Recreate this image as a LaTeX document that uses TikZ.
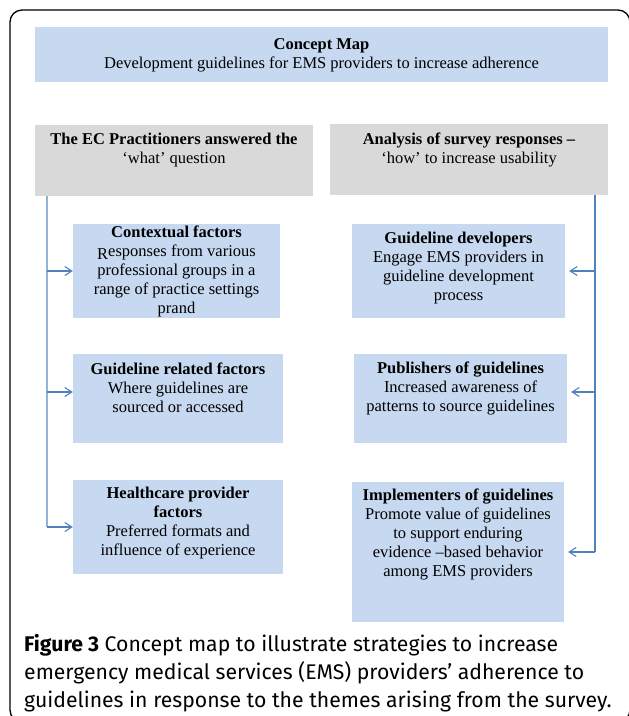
\documentclass[tikz,border=0pt]{standalone}
\usepackage{fontspec}
\setmainfont{Liberation Serif}
\newfontfamily\capfont{Fira Sans}
\usepackage{tikz}
\usetikzlibrary{arrows.meta}
\definecolor{boxblue}{HTML}{C6D9F0}
\definecolor{boxgrey}{HTML}{D9D9D9}
\definecolor{lineblue}{HTML}{95B3D7}
\definecolor{arrowblue}{HTML}{4F81BD}

\begin{document}
\begin{tikzpicture}[x=1pt, y=-1pt,
  box/.style={rectangle, fill=boxblue, inner sep=0pt},
  head/.style={rectangle, fill=boxgrey, inner sep=0pt},
  txt/.style={align=center, inner sep=0pt, font=\fontsize{16.5}{19}\selectfont},
  arr/.style={draw=arrowblue, line width=1.1pt, -{Straight Barb[length=7pt,width=9pt]}}]
  \useasboundingbox (0,0) rectangle (629,716);
  \clip (0,0) rectangle (629,716);
  \draw[line width=1.3pt, rounded corners=12pt] (10,10) rectangle (630,722);

  \node[box, minimum width=573, minimum height=55] (title) at (321.5,54.5) {};
  \node[txt] (title-t) at (321.5,55) {\textbf{Concept Map}\\Development guidelines for EMS providers to increase adherence};

  \node[head, minimum width=278, minimum height=71] (what) at (174,160.5) {};
  \node[txt] (what-t) at (174,150) {\bfseries The EC Practitioners answered the\\‘what’ question};
  \node[head, minimum width=278, minimum height=71] (how) at (469,159.5) {};
  \node[txt] (how-t) at (469,150) {\bfseries Analysis of survey responses –\\‘how’ to increase usability};

  \node[box, minimum width=207, minimum height=94] (cf) at (176.5,271) {};
  \node[txt] (cf-t) at (176.5,271) {\textbf{Contextual factors}\\\raisebox{-3pt}{R}esponses from various\\professional groups in a\\range of practice settings\\prand};
  \node[box, minimum width=210, minimum height=89] (gr) at (178,398.5) {};
  \node[txt] (gr-t) at (178,388) {\textbf{Guideline related factors}\\Where guidelines are\\sourced or accessed};
  \node[box, minimum width=210, minimum height=94] (hp) at (178,527) {};
  \node[txt] (hp-t) at (178,523.5) {\textbf{Healthcare provider}\\\textbf{factors}\\Preferred formats and\\influence of experience};

  \node[box, minimum width=213, minimum height=94] (gd) at (458.5,271) {};
  \node[txt] (gd-t) at (458.5,268) {\textbf{Guideline developers}\\Engage EMS providers in\\guideline development\\process};
  \node[box, minimum width=213, minimum height=89] (pg) at (460.5,398.5) {};
  \node[txt] (pg-t) at (460.5,388.5) {\textbf{Publishers of guidelines}\\Increased awareness of\\patterns to source guidelines};
  \node[box, minimum width=212, minimum height=140] (ig) at (458,552) {};
  \node[txt] (ig-t) at (458,534.5) {\textbf{Implementers of guidelines}\\Promote value of guidelines\\to support enduring\\evidence –based behavior\\among EMS providers};

  \coordinate (lx) at (47,0);
  \coordinate (rx) at (595,0);
  \coordinate (gr-in) at ([yshift=6.5pt]gr.west);
  \coordinate (pg-in) at ([yshift=6.5pt]pg.east);
  \draw[draw=lineblue, line width=2pt] (lx |- what.south) -- (lx |- hp.west);
  \draw[arr] (lx |- cf.west) -- (cf.west);
  \draw[arr] (lx |- gr-in) -- (gr-in);
  \draw[arr] (lx |- hp.west) -- (hp.west);
  \draw[draw=arrowblue, line width=1.1pt] (rx |- how.south) -- (rx |- ig.east);
  \draw[arr, shorten >=4pt] (rx |- gd.east) -- (gd.east);
  \draw[arr, shorten >=4pt] (rx |- pg-in) -- (pg-in);
  \draw[arr, shorten >=4pt] (rx |- ig.east) -- (ig.east);

  \node[anchor=north west, align=left, inner sep=0pt, font=\capfont\fontsize{21.2}{28}\selectfont] (caption) at (24,634) {\textbf{Figure 3} Concept map to illustrate strategies to increase\\emergency medical services (EMS) providers’ adherence to\\guidelines in response to the themes arising from the survey.};
\end{tikzpicture}
\end{document}
